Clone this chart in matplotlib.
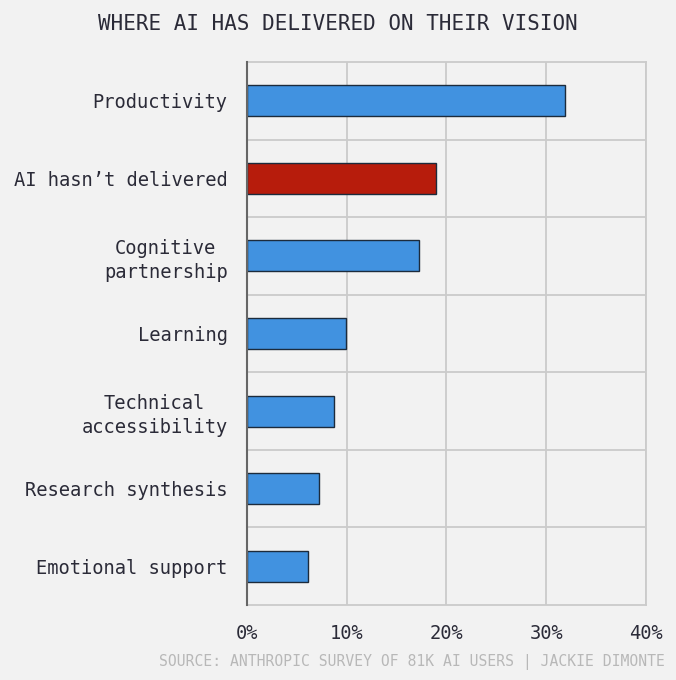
import numpy as np
import matplotlib
matplotlib.use('Agg')
import matplotlib.pyplot as plt
from matplotlib.ticker import FixedLocator, FuncFormatter

# Data
categories = ['Productivity', 'AI hasn\u2019t delivered', 'Cognitive\npartnership', 'Learning',
              'Technical\naccessibility', 'Research synthesis', 'Emotional support']
values = [31.9, 18.9, 17.2, 9.9, 8.7, 7.2, 6.1]
highlight = 'AI hasn\u2019t delivered'
x_ticks = [0, 10, 20, 30, 40]

bg = '#f2f2f2'
blue = '#4192e0'
red = '#b71c0c'
edge = '#1c2b3c'
text_col = '#2b2b38'
grid_col = '#cbcbcb'

plt.rcParams['font.family'] = ['DejaVu Sans Mono']

fig = plt.figure(figsize=(6.76, 6.8), dpi=100, facecolor=bg)
ax = fig.add_axes([0.3654, 0.1103, 0.5902, 0.7985], facecolor=bg)

y = np.arange(len(categories))
colors = [red if c == highlight else blue for c in categories]
ax.barh(y, values, height=0.4, color=colors, edgecolor=edge, linewidth=1.0, zorder=3)

ax.set_xlim(0, 40)
ax.set_ylim(len(categories) - 0.5, -0.5)

ax.xaxis.set_major_locator(FixedLocator(x_ticks))
ax.xaxis.set_major_formatter(FuncFormatter(lambda v, p: f'{v:.0f}%'))
ax.set_yticks(y)
ax.set_yticklabels(categories, multialignment='center', linespacing=1.35)
ax.yaxis.set_minor_locator(FixedLocator(np.arange(0.5, len(categories) - 1, 1.0)))

ax.grid(True, axis='x', which='major', color=grid_col, linewidth=1.3, zorder=0)
ax.grid(True, axis='y', which='minor', color=grid_col, linewidth=1.3, zorder=0)
ax.tick_params(axis='both', which='both', length=0, colors=text_col, labelsize=13.5, pad=14)

for side in ['top', 'right', 'bottom']:
    ax.spines[side].set_color(grid_col)
    ax.spines[side].set_linewidth(1.3)
ax.spines['left'].set_color('#666666')
ax.spines['left'].set_linewidth(1.5)
ax.spines['left'].set_zorder(4)

fig.text(0.5, 0.965, 'WHERE AI HAS DELIVERED ON THEIR VISION', ha='center', va='center',
         fontsize=15, color=text_col)
fig.text(0.983, 0.026, 'SOURCE: ANTHROPIC SURVEY OF 81K AI USERS | JACKIE DIMONTE', ha='right',
         va='center', fontsize=10.6, color='#b8b8b8')

fig.savefig('out.png', dpi=100, facecolor=bg)
